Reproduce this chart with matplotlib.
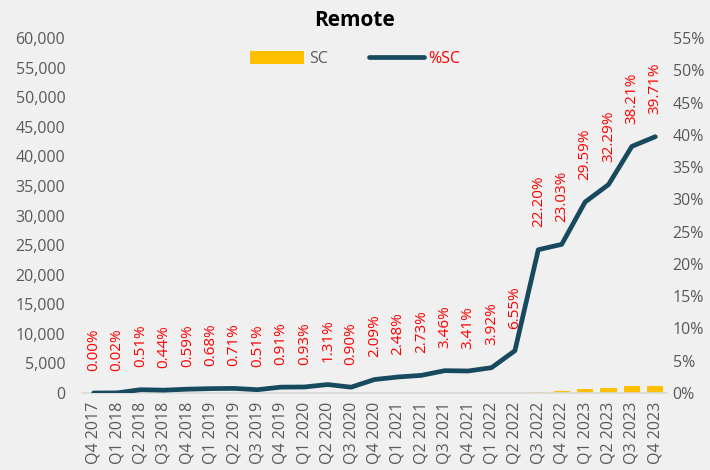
import matplotlib.pyplot as plt
import numpy as np

# ===== DATA =====
quarters = ["Q4 2017",
            "Q1 2018", "Q2 2018", "Q3 2018", "Q4 2018",
            "Q1 2019", "Q2 2019", "Q3 2019", "Q4 2019",
            "Q1 2020", "Q2 2020", "Q3 2020", "Q4 2020",
            "Q1 2021", "Q2 2021", "Q3 2021", "Q4 2021",
            "Q1 2022", "Q2 2022", "Q3 2022", "Q4 2022",
            "Q1 2023", "Q2 2023", "Q3 2023", "Q4 2023"]
sc = [0, 0, 0, 0, 0, 0, 0, 0, 0, 0, 0, 0, 0, 0, 0, 0, 0, 0, 0,
      170, 340, 730, 850, 1180, 1180]
pct_sc = [0.00, 0.02, 0.51, 0.44, 0.59, 0.68, 0.71, 0.51, 0.91, 0.93,
          1.31, 0.90, 2.09, 2.48, 2.73, 3.46, 3.41, 3.92, 6.55, 22.20,
          23.03, 29.59, 32.29, 38.21, 39.71]

BG = "#f0f0f0"
GOLD = "#ffc000"
TEAL = "#174a5e"
GREY = "#595959"

plt.rcParams["font.family"] = ["Open Sans", "DejaVu Sans"]

fig = plt.figure(figsize=(7.1, 4.7), dpi=100, facecolor=BG)
ax = fig.add_axes([82 / 710, 1 - 393 / 470, (667 - 82) / 710, (393 - 38) / 470])
ax.set_facecolor(BG)
ax2 = ax.twinx()

x = np.arange(len(quarters))
bars = ax.bar(x, sc, width=0.7, color=GOLD, label="SC", zorder=2)
line, = ax2.plot(x, pct_sc, color=TEAL, linewidth=3.4, solid_capstyle="round",
                 label="%SC", zorder=3)

# red value labels above each point
for xi, v in zip(x, pct_sc):
    ax2.annotate(f"{v:.2f}%", (xi, v), xytext=(0, 16), textcoords="offset points",
                 rotation=90, ha="center", va="bottom", color="#ff0000", fontsize=11)

ax.set_xlim(-0.5, len(quarters) - 0.5)
ax.set_ylim(0, 60000)
ax.set_yticks(np.arange(0, 60001, 5000))
ax.set_yticklabels([f"{v:,}" for v in range(0, 60001, 5000)])
ax2.set_ylim(0, 55)
ax2.set_yticks(np.arange(0, 56, 5))
ax2.set_yticklabels([f"{v}%" for v in range(0, 56, 5)])

ax.set_xticks(x)
ax.set_xticklabels(quarters, rotation=90)

for a in (ax, ax2):
    for s in a.spines.values():
        s.set_visible(False)
    a.tick_params(length=0, colors=GREY, labelsize=11.5)
ax.spines["bottom"].set_visible(True)
ax.spines["bottom"].set_color("#d9d9d9")
ax.spines["bottom"].set_linewidth(1.2)
ax.tick_params(axis="y", pad=12)
ax2.tick_params(axis="y", pad=4)
ax.tick_params(axis="x", pad=6)

fig.text(0.5, 1 - 20 / 470, "Remote", ha="center", va="center",
         fontsize=15, fontweight="bold")

leg = fig.legend([bars, line], ["SC", "%SC"], loc="center",
                 bbox_to_anchor=(0.5, 1 - 59 / 470), ncol=2, frameon=False,
                 fontsize=11.5, handlelength=3.4, handleheight=0.9,
                 handletextpad=0.3, columnspacing=2.6)
leg.get_texts()[0].set_color(GREY)
leg.get_texts()[1].set_color("#ff0000")

fig.savefig("out.png", dpi=100, facecolor=BG)
